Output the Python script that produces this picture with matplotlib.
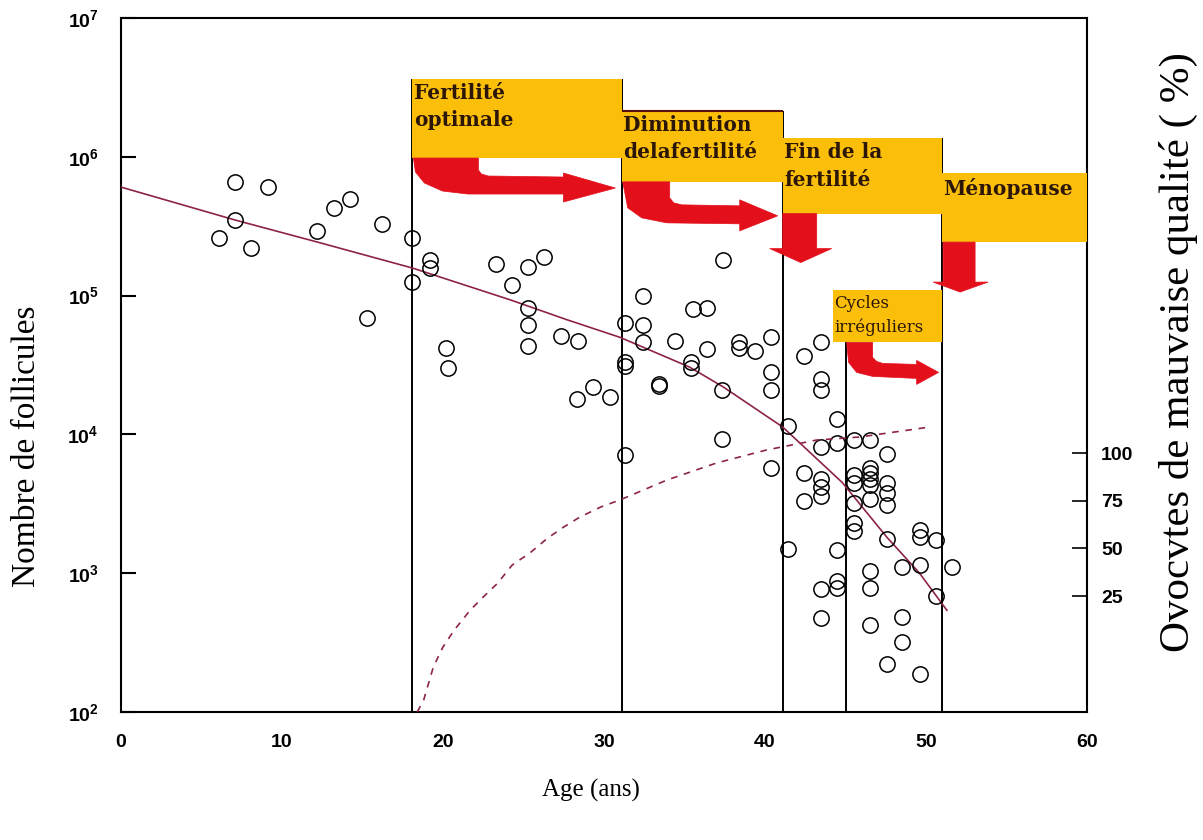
import numpy as np
import matplotlib
matplotlib.use("Agg")
import matplotlib.pyplot as plt
from matplotlib.patches import Polygon
from matplotlib.transforms import IdentityTransform

plt.rcParams["mathtext.fontset"] = "custom"
plt.rcParams["mathtext.bf"] = "Liberation Sans:bold"
plt.rcParams["mathtext.rm"] = "Liberation Sans"

# scatter: age (years) and follicle count
ages = [6.1, 7.1, 7.1, 8.1, 9.1, 12.2, 13.2, 14.2, 16.2, 15.3,
        18.1, 18.1, 19.2, 19.2, 20.2, 20.3, 23.3, 24.3, 25.3, 26.3,
        25.3, 25.3, 25.3, 27.3, 28.4, 28.3, 29.3, 30.4, 31.3, 31.3,
        31.3, 31.3, 32.4, 32.4, 32.4, 33.4, 33.4, 34.4, 35.5, 36.4,
        36.4, 35.4, 35.4, 37.3, 37.4, 37.3, 38.4, 38.4, 39.4, 40.4,
        40.4, 40.4, 40.4, 41.4, 41.4, 42.4, 42.4, 42.4, 43.5, 43.5,
        43.5, 43.5, 43.5, 43.5, 43.5, 43.5, 43.5, 44.5, 44.5, 44.5,
        44.5, 44.5, 45.5, 45.5, 45.5, 45.5, 45.5, 45.5, 46.5, 46.5,
        46.5, 46.5, 46.5, 46.5, 46.5, 46.5, 46.5, 47.6, 47.6, 47.6,
        47.6, 47.6, 47.6, 48.5, 48.5, 48.5, 49.6, 49.6, 49.6, 49.6,
        50.6, 50.6, 51.6]
counts = [2.6e5, 6.6e5, 3.5e5, 2.2e5, 6.1e5, 2.9e5, 4.3e5, 5.0e5, 3.3e5, 6.9e4,
          2.6e5, 1.25e5, 1.8e5, 1.58e5, 4.2e4, 3.0e4, 1.7e5, 1.2e5, 1.6e5, 1.9e5,
          8.1e4, 6.1e4, 4.3e4, 5.1e4, 4.7e4, 1.8e4, 2.2e4, 1.86e4, 6.4e4, 3.3e4,
          3.1e4, 7.1e3, 1.0e5, 6.1e4, 4.6e4, 2.3e4, 2.25e4, 4.7e4, 8.0e4, 8.1e4,
          4.1e4, 3.3e4, 3.0e4, 2.1e4, 1.8e5, 9.3e3, 4.6e4, 4.2e4, 4.0e4, 5.0e4,
          2.8e4, 2.1e4, 5.7e3, 1.15e4, 1.5e3, 3.7e4, 5.3e3, 3.3e3, 4.6e4, 2.5e4,
          2.1e4, 8.1e3, 4.8e3, 4.2e3, 3.6e3, 770, 475, 1.3e4, 8.7e3, 1.47e3,
          880, 780, 9.1e3, 5.1e3, 4.5e3, 3.2e3, 2.3e3, 2.0e3, 9.1e3, 5.7e3,
          5.3e3, 4.8e3, 4.3e3, 3.4e3, 1.04e3, 780, 420, 7.2e3, 4.5e3, 3.8e3,
          3.1e3, 1.76e3, 222, 1.1e3, 480, 320, 2.05e3, 1.82e3, 1.15e3, 188,
          1.73e3, 685, 1.1e3]

# fitted decline (solid) and % poor quality oocytes (dashed, right axis)
fit_age = [0, 7.1, 12.2, 18.1, 24.2, 27.7, 31.0, 35.3, 37.4, 41.1, 44.8, 47.6, 49.6, 51.3]
fit_count = [6.05e5, 3.5e5, 2.43e5, 1.58e5, 9.3e4, 6.7e4, 5.0e4, 3.06e4, 2.2e4,
             1.13e4, 4.5e3, 1.8e3, 1.0e3, 540]
bad_age = [18.4, 18.8, 19.4, 20.0, 20.7, 21.7, 22.5, 23.4, 24.3, 25.4, 26.5, 27.5,
           28.5, 29.8, 31.0, 33.9, 37.0, 40.1, 43.2, 45.9, 50.2]
bad_pct = [-35.8, -29.5, -12.2, -1.7, 7.2, 17.7, 24.5, 31.8, 41.3, 47.6, 55.4, 61.2,
           66.4, 71.7, 75.4, 85.8, 94.8, 101.6, 106.8, 108.4, 113.6]

# phase boundaries and labels
line_ages = [18.1, 31.1, 41.1, 45.0, 51.0]
line_tops = [3.64e6, 3.64e6, 2.14e6, 1.10e5, 1.36e6]
box_labels = ["Fertilité\noptimale", "Diminution\ndelafertilité",
              "Fin de la\nfertilité", "Ménopause", "Cycles\nirréguliers"]
box_x0 = [18.1, 31.1, 41.1, 51.0, 44.2]
box_x1 = [31.1, 41.1, 51.0, 60.0, 51.0]
box_y0 = [9.8e5, 6.6e5, 3.9e5, 2.43e5, 4.6e4]
box_y1 = [3.64e6, 2.14e6, 1.36e6, 7.6e5, 1.10e5]

orange = "#FBBF0A"
red = "#E3101C"
curve = "#8E2445"
txt = "#2b1608"

fig = plt.figure(figsize=(12.03, 8.4), dpi=100)
ax = fig.add_axes([121 / 1203, 128 / 840, 966 / 1203, 694 / 840])
ax.set_yscale("log")
ax.set_xlim(0, 60)
ax.set_ylim(1e2, 1e7)

ax.vlines(line_ages, 1e2, line_tops, color="black", lw=1.4, zorder=2)
ax.plot(fit_age, fit_count, color=curve, lw=1.2, zorder=3)
ax.plot(ages, counts, "o", mfc="none", mec="black", ms=11, mew=1.1, zorder=4)

for i, lab in enumerate(box_labels):
    ax.fill_between([box_x0[i], box_x1[i]], box_y0[i], box_y1[i],
                    color=orange, lw=0, zorder=5)
    small = i == 4
    ax.annotate(lab, xy=(box_x0[i], box_y1[i]), xytext=(1, -4 if small else -3),
                textcoords="offset points", ha="left", va="top",
                fontsize=12 if small else 14.5, family="DejaVu Serif",
                fontweight="normal" if small else "bold", color=txt,
                linespacing=1.45, zorder=6)
# dark edge on top of the second box
ax.hlines(box_y1[1], box_x0[1], box_x1[1], color="#5a1010", lw=1.5, zorder=6)

# red arrows under the boxes, offsets in pixels from each box's lower-left corner
arrow_shapes = [
    [(1, 0), (66, 0), (66, 12), (69, 16), (76, 18), (151, 19), (151, 15), (203, 30),
     (151, 44), (151, 36), (55, 36), (30, 33), (12, 25), (3, 14)],
    [(1, 0), (48, 0), (48, 16), (52, 21), (60, 23), (118, 24), (118, 18), (156, 34),
     (118, 49), (118, 42), (45, 41), (20, 36), (6, 26)],
    [(0, 0), (34, 0), (34, 35), (49, 35), (18, 49), (-13, 35), (0, 35)],
    [(1, 0), (33, 0), (33, 40), (46, 40), (18, 50), (-9, 40), (1, 40)],
    [(14, 0), (40, 0), (40, 15), (44, 19), (50, 21), (84, 22), (84, 18), (106, 30),
     (84, 42), (84, 36), (40, 34), (24, 30), (16, 20)],
]
for i, shape in enumerate(arrow_shapes):
    bx, by = ax.transData.transform((box_x0[i], box_y0[i]))
    pts = [(bx + dx, by - dy) for dx, dy in shape]
    ax.add_patch(Polygon(pts, closed=True, facecolor=red, edgecolor=red, lw=0.5,
                         transform=IdentityTransform(), zorder=6, clip_on=False))

tick_font = dict(family=["Liberation Sans Narrow", "Liberation Sans", "DejaVu Sans"],
                 fontweight="bold", fontsize=14)
ax.set_xticks(range(0, 61, 10))
ax.set_xticklabels([str(v) for v in range(0, 61, 10)], **tick_font)
ax.set_yticks([1e2, 1e3, 1e4, 1e5, 1e6, 1e7])
ax.set_yticklabels([r"$\mathbf{10^{%d}}$" % p for p in range(2, 8)], fontsize=14)
ax.minorticks_off()
ax.tick_params(axis="x", length=0, pad=16)
ax.tick_params(axis="y", direction="in", length=11, width=1.5, pad=16)
for s in ax.spines.values():
    s.set_linewidth(1.5)

ax2 = ax.twinx()
ax2.set_ylim(-35.8, 328.1)
ax2.plot(bad_age, bad_pct, color=curve, lw=1.2, dashes=(4, 4))
ax2.set_yticks([25, 50, 75, 100])
ax2.set_yticklabels(["25", "50", "75", "100"], **tick_font)
ax2.tick_params(axis="y", direction="in", length=11, width=1.2, pad=10)
for s in ax2.spines.values():
    s.set_visible(False)

fig.text(27 / 1203, 1 - 446 / 840, "Nombre de follicules", rotation=90,
         ha="center", va="center", family="Liberation Serif", fontsize=24)
fig.text(1178 / 1203, 1 - 352 / 840, "Ovocvtes de mauvaise qualité ( %)", rotation=90,
         ha="center", va="center", family="Liberation Serif", fontsize=31)
fig.text(591 / 1203, 1 - 790 / 840, "Age (ans)", ha="center", va="center",
         family="Liberation Serif", fontsize=18)

fig.savefig("out.png", dpi=100)
